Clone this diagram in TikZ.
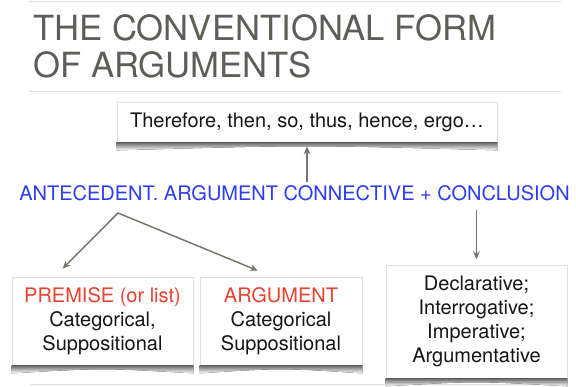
\documentclass[tikz,border=0pt]{standalone}
\usepackage{fontspec}
\setmainfont{TeX Gyre Heros}
\usepackage{xcolor}
\usepackage{tikz}
\usetikzlibrary{calc,arrows.meta}
\definecolor{ink}{HTML}{5E5D57}
\definecolor{linkblue}{HTML}{2E3CF2}
\definecolor{alert}{HTML}{E8422F}
\definecolor{rule}{HTML}{DDDDDD}
\definecolor{arrowc}{HTML}{77756B}
\definecolor{body}{HTML}{151515}
\tikzset{
  card/.style={draw=black!12, line width=0.5pt, fill=white, text=body, align=center, font=\fontsize{15}{18}\selectfont, inner sep=0pt},
  arr/.style={draw=arrowc, line width=1.1pt, -{Stealth[length=6pt,width=5pt]}},
  rulel/.style={draw=rule, line width=0.6pt},
  ttl/.style={text=ink, font=\fontsize{26}{28}\selectfont, align=left, anchor=north west, inner sep=0pt},
  lead/.style={text=linkblue, font=\fontsize{15}{18}\selectfont, inner sep=2pt},
  shade/.style={top color=black!60, bottom color=white},
}

\begin{document}
\begin{tikzpicture}[x=0.75pt,y=-0.75pt]
  \path[fill=white] (0,0) rectangle (576,386);
  \draw[rulel] (29,1) -- (561,1);
  \draw[rulel] (29,91) -- (561,91);
  \draw[rulel] (30,384) -- (561,384);
  \node[ttl] (title) at (33,14) {THE CONVENTIONAL FORM\\OF ARGUMENTS};
  \node[card, minimum width=285pt, minimum height=30pt] (conn) at (307,122)
    {Therefore, then, so, thus, hence, ergo\dots};
  \node[lead, anchor=base] (lead) at (294.5,200)
    {ANTECEDENT. ARGUMENT CONNECTIVE + CONCLUSION};
  \node[card, minimum width=135.75pt, minimum height=66pt] (prem) at (102.5,321)
    {{\color{alert}PREMISE (or list)}\\Categorical,\\Suppositional};
  \node[card, minimum width=121.5pt, minimum height=66pt] (argu) at (281,321)
    {{\color{alert}ARGUMENT}\\Categorical\\Suppositional};
  \node[card, minimum width=135.75pt, minimum height=84.75pt] (concl) at (476.5,321.5)
    {Declarative;\\Interrogative;\\Imperative;\\Argumentative};
  % shadows under the cards
  \foreach \b in {conn,prem,argu,concl}
    \fill[shade] (\b.south west) -- (\b.south east) -- ([yshift=-6pt]\b.south east)
      .. controls ([yshift=-2pt]\b.south) .. ([yshift=-6pt]\b.south west) -- cycle;
  \coordinate (fork) at (118,213);
  \draw[arr, shorten >=3pt] (conn.south |- lead.north) -- (conn.south);
  \draw[arr] (fork) -- ($(prem.north west)!0.28!(prem.north east)+(0,-8)$);
  \draw[arr] (fork) -- ($(argu.north west)!0.358!(argu.north east)+(0,-6)$);
  \draw[arr, shorten <=5pt, shorten >=4pt] (concl.north |- lead.south) -- (concl.north);
\end{tikzpicture}
\end{document}
